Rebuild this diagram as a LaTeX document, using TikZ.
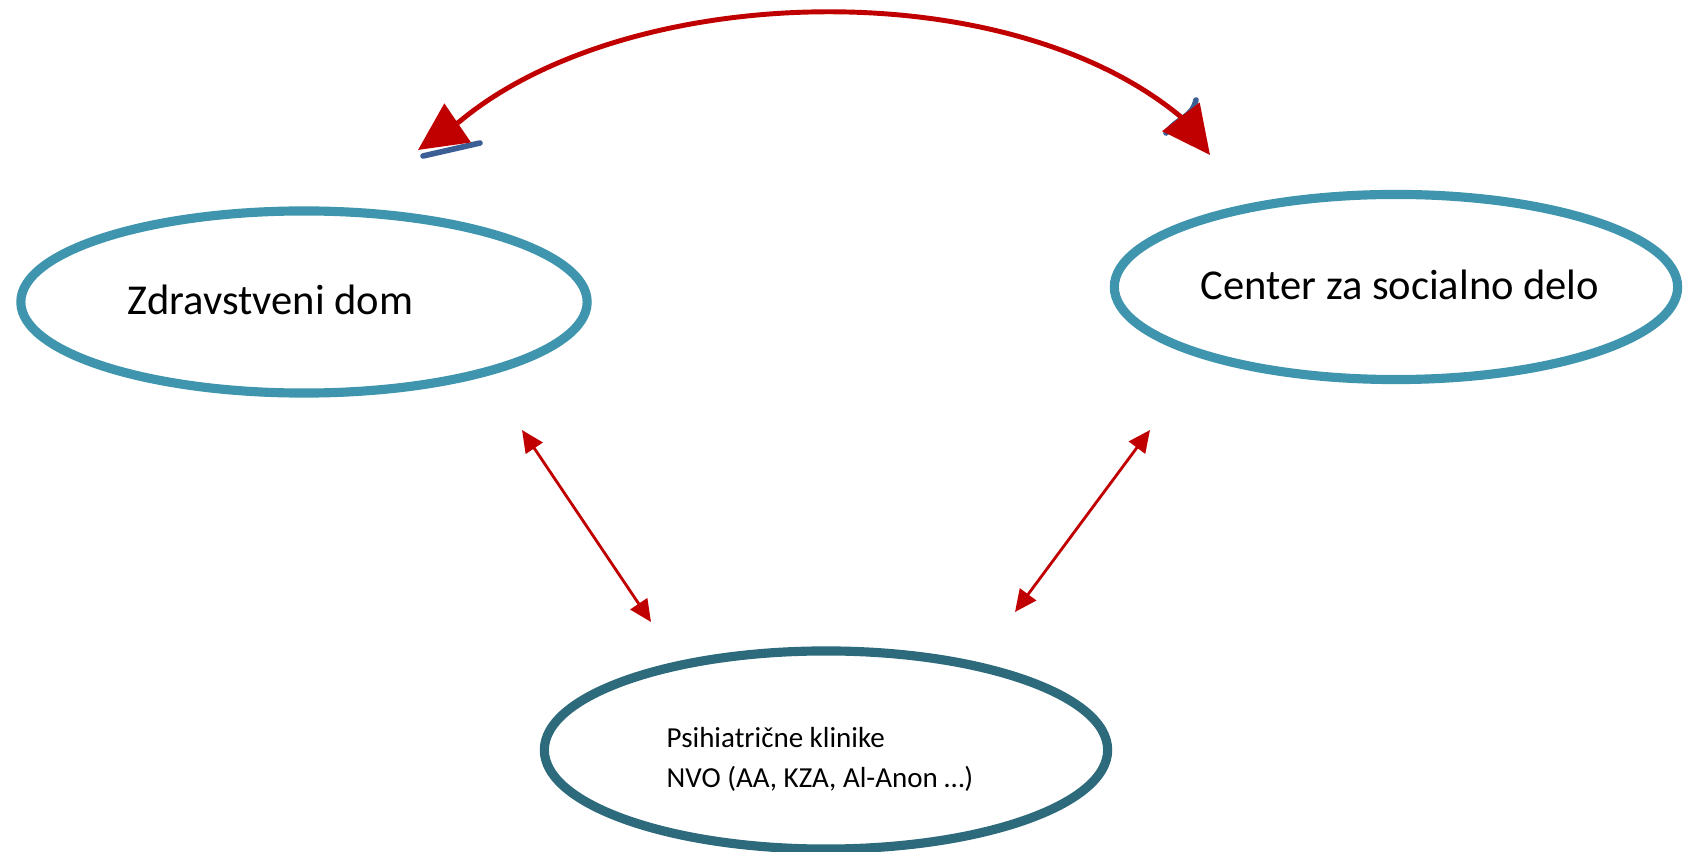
\documentclass[tikz,border=0pt]{standalone}
\usepackage{fontspec}
\setmainfont{Carlito}
\usetikzlibrary{arrows.meta, shapes.geometric}
\definecolor{rdeca}{HTML}{C00000}
\definecolor{modra}{HTML}{3F95AD}
\definecolor{temna}{HTML}{2D6A7B}
\definecolor{robna}{HTML}{3B5E95}

\begin{document}
\begin{tikzpicture}[x=0.01cm, y=-0.01cm]
    \useasboundingbox (0,0) rectangle (1684,852);

    % Ustanove
    \node[draw=modra, line width=2.6pt, ellipse, minimum width=5.66cm, minimum height=1.82cm] (zd) at (304,302) {};
    \node[draw=modra, line width=2.6pt, ellipse, minimum width=5.63cm, minimum height=1.85cm] (csd) at (1396,287) {};
    \node[draw=temna, line width=2.6pt, ellipse, minimum width=5.63cm, minimum height=1.98cm] (pk) at (826,750) {};

    % Napisi
    \node[anchor=base west, inner sep=0pt, font=\fontsize{12.1}{14}\selectfont] (zdt) at (127,315) {Zdravstveni dom};
    \node[anchor=base, inner sep=0pt, font=\fontsize{12.1}{14}\selectfont] (csdt) at (1400,300) {Center za socialno delo};
    \node[anchor=west, inner sep=0pt, align=left, font=\fontsize{8.25}{11.4}\selectfont] (pkt) at (666,759) {Psihiatrične klinike\\NVO (AA, KZA, Al-Anon …)};

    % Konci puščic
    \coordinate (zgL) at (418,150);
    \coordinate (zgLb) at (459,122);
    \coordinate (zgD) at (1210,155);
    \coordinate (zgDb) at (1181,117);
    \coordinate (zdA) at (522,430);
    \coordinate (zdB) at (651,622);
    \coordinate (csdA) at (1150,430);
    \coordinate (csdB) at (1015,612);

    % Modri robovi pod konicami
    \draw[robna, line width=1.6pt, line cap=round] (423,156) -- (480,143);
    \draw[robna, line width=1.6pt, line cap=round] (1196,100) .. controls (1192,118) and (1178,117) .. (1166,133);

    % Zgornja povezava
    \draw[{Triangle[length=0.48cm, width=0.46cm]}-{Triangle[length=0.48cm, width=0.46cm]}, rdeca, line width=1.4pt] (zgL) -- (zgLb) .. controls (626,-18) and (1005,-30) .. (zgDb) -- (zgD);

    % Povezave do klinik
    \draw[{Triangle[length=0.22cm, width=0.2cm]}-{Triangle[length=0.22cm, width=0.2cm]}, rdeca, line width=0.8pt] (zdA) -- (zdB);
    \draw[{Triangle[length=0.22cm, width=0.2cm]}-{Triangle[length=0.22cm, width=0.2cm]}, rdeca, line width=0.8pt] (csdA) -- (csdB);
\end{tikzpicture}
\end{document}
